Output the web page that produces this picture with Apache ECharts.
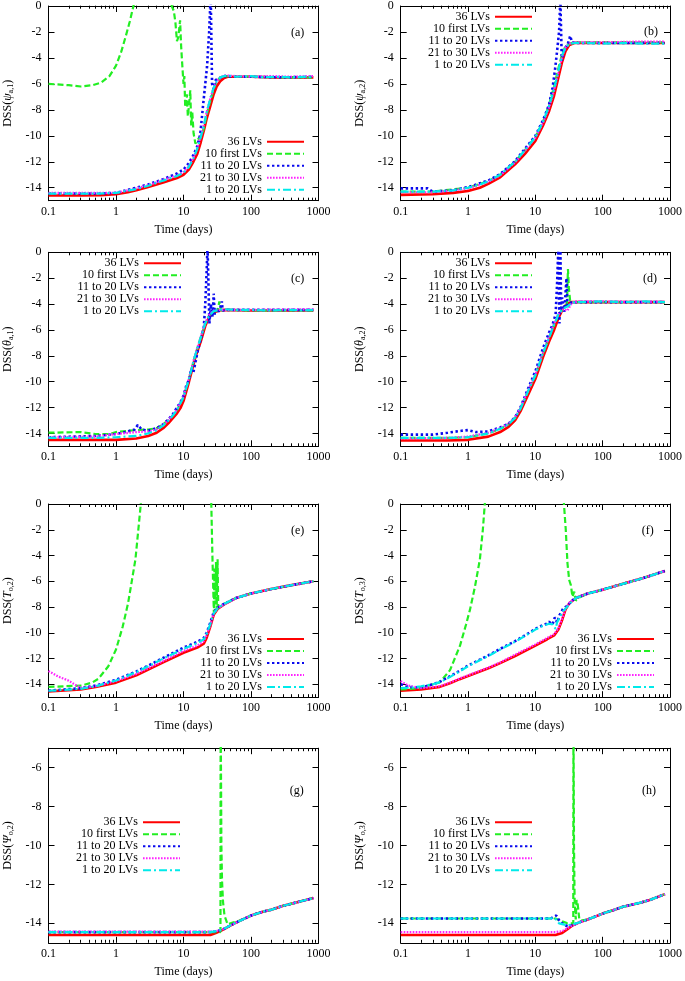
<!DOCTYPE html>
<html><head><meta charset="utf-8">
<script src="https://cdn.jsdelivr.net/npm/echarts@6/dist/echarts.min.js"></script>
<style>html,body{margin:0;padding:0;background:#fff}#c{width:685px;height:981px}</style>
</head><body><div id="c"></div>
<script>
// ---------- DATA (day, DSS) ----------
const aRed = [[0.1,-14.6],[0.3,-14.6],[0.6,-14.58],[1,-14.5],[1.5,-14.35],[2,-14.2],[3,-13.95],[5,-13.6],[8,-13.25],[10,-13.0],[12,-12.6],[14,-12.0],[16,-11.4],[18,-10.5],[20,-9.6],[22,-8.7],[25,-7.7],[28,-6.8],[31,-6.2],[35,-5.8],[40,-5.55],[45,-5.45],[60,-5.45],[100,-5.45],[200,-5.5],[400,-5.5],[840,-5.5]];
const aGreen = [[0.1,-6.0],[0.2,-6.1],[0.3,-6.2],[0.45,-6.1],[0.6,-5.9],[0.8,-5.4],[1,-4.6],[1.2,-3.5],[1.4,-2.3],[1.6,-1.2],[1.85,0.2],[2,1],[6.5,1],[6.7,0],[7.2,-0.4],[7.6,-1.3],[8.0,-2.7],[8.4,-2.4],[8.9,-1.1],[9.2,-3.0],[9.5,-4.2],[10,-6.0],[10.3,-5.4],[10.6,-7.8],[11.2,-6.8],[11.6,-8.5],[12.1,-7.6],[12.6,-6.5],[13.0,-9.2],[13.5,-8.2],[14.1,-9.8],[15,-10.6],[15.8,-10.7],[16.8,-10.2],[18.9,-9.9],[20,-9.4],[22,-8.4],[25,-7.3],[28,-6.4],[31,-5.85],[35,-5.5],[40,-5.4],[100,-5.45],[300,-5.5],[840,-5.5]];
const aBlue = [[0.1,-14.45],[0.5,-14.45],[1,-14.4],[2,-14.0],[3,-13.75],[5,-13.35],[8,-12.9],[10,-12.6],[12,-12.1],[14,-11.5],[16,-10.8],[17.7,-9.9],[19.8,-7.3],[22.3,-4.7],[24,-2.0],[24.9,0],[25.3,0.8],[25.8,0.8],[26.5,-6.0],[28,-6.4],[30,-5.7],[33,-5.6],[36,-5.5],[40,-5.4],[60,-5.45],[100,-5.45],[300,-5.5],[840,-5.45]];
const aMagenta = [[0.1,-14.4],[0.5,-14.4],[1,-14.4],[2,-14.05],[3,-13.8],[5,-13.4],[8,-13.05],[10,-12.8],[12,-12.35],[14,-11.7],[16,-10.95],[18,-10.05],[20,-9.15],[22,-8.2],[25,-7.1],[28,-6.3],[31,-5.8],[35,-5.5],[40,-5.35],[60,-5.4],[100,-5.45],[200,-5.4],[400,-5.45],[840,-5.4]];
const aCyan = [[0.1,-14.45],[0.5,-14.45],[1,-14.4],[2,-14.1],[3,-13.85],[5,-13.45],[8,-13.1],[10,-12.85],[12,-12.4],[14,-11.75],[16,-11.0],[18,-10.1],[20,-9.2],[22,-8.2],[25,-7.1],[28,-6.3],[31,-5.8],[35,-5.5],[40,-5.4],[45,-5.35],[60,-5.45],[100,-5.4],[150,-5.5],[250,-5.45],[400,-5.5],[600,-5.45],[840,-5.5]];

const bRed = [[0.1,-14.55],[0.3,-14.5],[0.6,-14.4],[1,-14.25],[1.5,-14.0],[2,-13.7],[3,-13.2],[5,-12.2],[7,-11.4],[10,-10.4],[13,-9.2],[16,-8.1],[19,-6.9],[22,-5.5],[25,-4.3],[28,-3.5],[32,-3.0],[38,-2.85],[50,-2.85],[100,-2.85],[300,-2.85],[840,-2.85]];
const bGreen = [[0.1,-14.3],[0.3,-14.3],[1,-14.0],[2,-13.5],[3,-13.0],[5,-12.0],[7,-11.1],[10,-10.1],[13,-8.9],[16,-7.6],[19,-6.2],[22,-4.8],[25,-3.7],[28,-3.1],[32,-2.9],[38,-2.8],[100,-2.8],[840,-2.8]];
const bBlue = [[0.1,-14.05],[0.25,-14.05],[0.3,-14.3],[0.6,-14.2],[1,-13.95],[2,-13.45],[3,-12.95],[5,-11.95],[7,-11.0],[10,-10.0],[13,-8.8],[16,-7.6],[18,-6.3],[19.5,-5.0],[21,-3.5],[22.5,-2.0],[23.5,0.5],[24.2,0.5],[24.7,-4.2],[27,-3.3],[30,-3.0],[33,-2.3],[35,-2.8],[40,-2.85],[100,-2.85],[840,-2.85]];
const bMagenta = [[0.1,-14.35],[0.3,-14.35],[0.6,-14.2],[1,-14.05],[2,-13.55],[3,-13.05],[5,-12.05],[7,-11.15],[10,-10.15],[13,-9.0],[16,-7.8],[19,-6.5],[22,-5.1],[25,-3.9],[28,-3.2],[32,-2.9],[38,-2.8],[100,-2.8],[300,-2.75],[840,-2.75]];
const bCyan = [[0.1,-14.3],[0.3,-14.3],[0.6,-14.2],[1,-14.0],[1.5,-13.75],[2,-13.5],[3,-13.0],[5,-12.0],[7,-11.1],[10,-10.1],[13,-8.9],[16,-7.7],[19,-6.4],[22,-5.0],[25,-3.8],[28,-3.2],[32,-2.95],[38,-2.85],[60,-2.85],[100,-2.9],[200,-2.85],[400,-2.9],[840,-2.9]];

const cRed = [[0.1,-14.5],[1,-14.5],[2,-14.4],[3,-14.2],[4,-13.95],[5,-13.6],[6,-13.2],[7,-12.8],[8,-12.45],[9,-12.05],[10,-11.5],[12,-10.05],[15,-8.1],[18,-6.9],[21,-5.7],[24,-5.0],[28,-4.65],[33,-4.5],[40,-4.45],[100,-4.5],[840,-4.5]];
const cGreen = [[0.1,-13.95],[0.3,-13.9],[0.5,-14.05],[0.8,-14.05],[1,-13.9],[1.5,-13.8],[2,-13.75],[3,-13.7],[4,-13.6],[5,-13.3],[6,-12.95],[7,-12.6],[8,-12.2],[10,-11.2],[12,-9.8],[15,-7.9],[18,-6.6],[21,-5.5],[24,-4.9],[28,-4.6],[32,-4.5],[34,-3.8],[36,-4.5],[40,-4.45],[100,-4.5],[840,-4.5]];
const cBlue = [[0.1,-14.3],[0.5,-14.2],[1,-14.05],[1.5,-13.85],[1.9,-13.7],[2.1,-13.35],[2.4,-13.7],[3,-13.8],[4,-13.6],[5,-13.3],[6,-12.9],[7,-12.5],[8,-12.0],[9,-11.6],[10,-11.1],[11,-10.3],[12,-9.9],[13,-9.0],[14,-9.3],[16,-7.8],[18,-6.7],[20,-5.8],[21,-4.0],[22,-1.5],[22.7,0.5],[23.4,0.5],[24.2,-5.5],[25.5,-4.0],[27,-5.0],[28,-3.2],[29,-4.8],[31,-4.4],[33,-4.6],[35,-4.3],[37,-3.8],[38,-4.5],[45,-4.45],[100,-4.45],[840,-4.45]];
const cMagenta = [[0.1,-14.3],[0.5,-14.25],[1,-14.05],[2,-13.9],[3,-13.85],[4,-13.7],[5,-13.35],[6,-12.95],[7,-12.55],[8,-12.15],[10,-11.15],[12,-9.75],[15,-7.85],[18,-6.55],[21,-5.45],[24,-4.85],[28,-4.5],[33,-4.45],[100,-4.45],[840,-4.4]];
const cCyan = [[0.1,-14.35],[0.5,-14.35],[1,-14.3],[2,-14.2],[3,-14.0],[4,-13.75],[5,-13.4],[6,-13.0],[7,-12.6],[8,-12.2],[10,-11.2],[12,-9.8],[15,-7.9],[18,-6.6],[21,-5.5],[24,-4.9],[28,-4.55],[33,-4.45],[40,-4.4],[60,-4.45],[100,-4.45],[200,-4.5],[400,-4.45],[600,-4.5],[840,-4.45]];

const dRed = [[0.1,-14.55],[0.5,-14.55],[1,-14.5],[2,-14.25],[3,-13.9],[4,-13.5],[5,-13.0],[6,-12.3],[8,-10.9],[10,-9.8],[13,-8.1],[16,-6.9],[19,-6.0],[22,-5.1],[26,-4.3],[30,-3.95],[35,-3.85],[100,-3.85],[840,-3.85]];
const dGreen = [[0.1,-14.35],[0.5,-14.35],[1,-14.3],[2,-14.0],[3,-13.65],[4,-13.3],[5,-12.8],[6,-12.1],[8,-10.6],[10,-9.5],[13,-7.8],[16,-6.6],[19,-5.6],[22,-4.8],[26,-4.35],[29.5,-4.0],[30.5,-1.3],[31.5,-2.8],[33,-3.85],[40,-3.85],[100,-3.85],[840,-3.85]];
const dBlue = [[0.1,-14.1],[0.3,-14.1],[0.5,-13.95],[0.8,-13.8],[1,-13.75],[1.3,-13.9],[2,-13.85],[3,-13.55],[4,-13.25],[5,-12.75],[6,-12.0],[8,-10.4],[10,-9.2],[13,-7.4],[16,-6.2],[18,-5.6],[20,-4.8],[21,-2.5],[22,0.5],[22.8,-5.5],[23.5,0.5],[24.2,-4.5],[25,-3.5],[27,-4.6],[29,-2.0],[30,-4.3],[32,-3.9],[40,-3.85],[100,-3.85],[840,-3.85]];
const dMagenta = [[0.1,-14.4],[0.5,-14.35],[1,-14.25],[2,-13.95],[3,-13.6],[4,-13.25],[5,-12.75],[6,-12.05],[8,-10.55],[10,-9.45],[13,-7.75],[16,-6.55],[19,-5.5],[22,-4.8],[26,-4.4],[30,-4.5],[35,-3.9],[45,-3.8],[100,-3.8],[400,-3.85],[840,-3.8]];
const dCyan = [[0.1,-14.35],[0.5,-14.35],[1,-14.3],[2,-14.0],[3,-13.65],[4,-13.3],[5,-12.8],[6,-12.1],[8,-10.6],[10,-9.5],[13,-7.8],[16,-6.6],[19,-5.6],[22,-4.8],[26,-4.35],[30,-4.2],[35,-3.9],[45,-3.85],[100,-3.8],[200,-3.85],[400,-3.8],[840,-3.85]];

const eRed = [[0.1,-14.55],[0.3,-14.4],[0.5,-14.2],[1,-13.87],[2,-13.3],[3,-12.85],[5,-12.3],[10,-11.55],[16,-11.15],[20,-10.85],[22,-10.4],[25,-9.5],[28,-8.6],[32,-8.15],[40,-7.8],[60,-7.3],[100,-6.95],[200,-6.6],[400,-6.3],[840,-6.0]];
const eGreen = [[0.1,-14.2],[0.31,-14.1],[0.45,-13.85],[0.55,-13.56],[0.77,-12.6],[1,-11.3],[1.26,-9.5],[1.51,-7.7],[1.7,-6.1],[1.94,-4.3],[2.16,-1.8],[2.35,0.2],[2.6,1],[25,1],[25.8,0.1],[26.3,-2.0],[26.8,-4.0],[27.5,-6.3],[28.2,-8.5],[28.8,-5.0],[29.5,-7.8],[30.3,-4.5],[31,-8.2],[32,-4.3],[32.7,-8.1],[34,-8.0],[40,-7.75],[60,-7.3],[100,-6.95],[200,-6.6],[400,-6.3],[840,-6.0]];
const eBlue = [[0.1,-14.5],[0.3,-14.3],[0.5,-14.1],[1,-13.65],[2,-13.0],[3,-12.55],[5,-11.95],[10,-11.15],[16,-10.7],[20,-10.4],[22,-10.0],[25,-9.2],[28,-8.4],[32,-8.05],[40,-7.75],[60,-7.3],[100,-6.95],[200,-6.6],[400,-6.3],[840,-6.0]];
const eMagenta = [[0.1,-12.97],[0.14,-13.4],[0.196,-13.7],[0.27,-14.15],[0.32,-14.3],[0.5,-14.15],[1,-13.75],[2,-13.2],[3,-12.75],[5,-12.2],[10,-11.4],[16,-11.0],[20,-10.65],[22,-10.2],[25,-9.4],[28,-8.5],[32,-8.1],[40,-7.8],[60,-7.3],[100,-6.95],[200,-6.6],[400,-6.3],[840,-6.0]];
const eCyan = [[0.1,-14.5],[0.3,-14.35],[0.5,-14.15],[1,-13.7],[2,-13.05],[3,-12.6],[5,-12.0],[10,-11.25],[16,-10.8],[20,-10.5],[22,-10.1],[25,-9.3],[28,-8.5],[32,-8.1],[40,-7.75],[60,-7.3],[100,-6.95],[200,-6.6],[400,-6.3],[840,-6.0]];

const fRed = [[0.1,-14.5],[0.2,-14.4],[0.38,-14.2],[0.55,-13.9],[0.75,-13.6],[1,-13.35],[2,-12.75],[3,-12.35],[5,-11.8],[10,-11.0],[15,-10.5],[19,-10.2],[22,-9.75],[25,-9.0],[28,-8.2],[32,-7.7],[40,-7.3],[60,-6.95],[100,-6.65],[200,-6.2],[400,-5.75],[840,-5.2]];
const fGreen = [[0.1,-14.4],[0.19,-14.3],[0.38,-13.85],[0.54,-12.9],[0.76,-11.0],[0.93,-9.4],[1.07,-8.2],[1.27,-6.4],[1.5,-4.3],[1.66,-2.0],[1.78,0.1],[1.9,1],[26,1],[26.6,0],[28.3,-2.0],[30,-4.6],[31.8,-5.9],[33.7,-6.3],[35.6,-7.2],[37.8,-6.8],[40,-7.5],[45,-7.25],[60,-6.95],[100,-6.65],[200,-6.2],[400,-5.75],[840,-5.2]];
const fBlue = [[0.1,-14.0],[0.13,-14.2],[0.2,-14.25],[0.3,-14.0],[0.4,-13.75],[0.55,-13.35],[0.75,-12.95],[1,-12.55],[2,-11.75],[3,-11.25],[5,-10.65],[7,-10.2],[10,-9.7],[13,-9.4],[14.7,-9.3],[16,-9.15],[18,-9.35],[19.5,-8.8],[21,-9.2],[23,-8.6],[26,-8.1],[30,-7.9],[35,-7.5],[40,-7.3],[60,-6.95],[100,-6.65],[200,-6.2],[400,-5.75],[840,-5.2]];
const fMagenta = [[0.1,-13.75],[0.13,-14.1],[0.2,-14.3],[0.38,-14.15],[0.55,-13.85],[0.75,-13.55],[1,-13.3],[2,-12.7],[3,-12.3],[5,-11.7],[10,-10.9],[15,-10.4],[19,-10.1],[22,-9.65],[25,-8.9],[28,-8.15],[32,-7.65],[40,-7.3],[60,-6.95],[100,-6.65],[200,-6.2],[400,-5.75],[840,-5.2]];
const fCyan = [[0.1,-14.3],[0.15,-14.25],[0.2,-14.15],[0.3,-14.0],[0.4,-13.8],[0.55,-13.4],[0.75,-13.0],[1,-12.6],[2,-11.8],[3,-11.3],[5,-10.7],[7,-10.25],[10,-9.75],[13,-9.45],[16,-9.3],[18,-9.35],[20,-9.7],[21,-9.2],[23,-8.8],[26,-8.3],[30,-7.95],[35,-7.55],[40,-7.3],[60,-6.95],[100,-6.65],[200,-6.2],[400,-5.75],[840,-5.2]];

const gRed = [[0.1,-14.6],[1,-14.6],[10,-14.6],[25,-14.6],[30,-14.5],[35,-14.4],[40,-14.3],[50,-14.1],[70,-13.85],[100,-13.6],[150,-13.4],[200,-13.3],[300,-13.1],[500,-12.9],[840,-12.7]];
const gGreen = [[0.1,-14.45],[10,-14.45],[30,-14.45],[35.3,-14.45],[35.5,-3],[35.7,-3],[35.9,-6],[36.4,-10],[37.2,-11.8],[38.5,-12.9],[40.5,-13.6],[45,-14.05],[55,-13.95],[70,-13.85],[100,-13.6],[150,-13.4],[200,-13.3],[300,-13.1],[500,-12.9],[840,-12.7]];
const gBlue = [[0.1,-14.45],[1,-14.45],[10,-14.45],[25,-14.45],[30,-14.4],[35,-14.35],[40,-14.28],[50,-14.1],[70,-13.85],[100,-13.6],[150,-13.4],[200,-13.3],[300,-13.1],[500,-12.9],[840,-12.7]];
const gMagenta = [[0.1,-14.43],[1,-14.43],[10,-14.43],[25,-14.43],[30,-14.4],[35,-14.35],[40,-14.28],[50,-14.1],[70,-13.85],[100,-13.6],[150,-13.4],[200,-13.3],[300,-13.1],[500,-12.9],[840,-12.7]];
const gCyan = [[0.1,-14.45],[1,-14.45],[10,-14.45],[25,-14.45],[30,-14.4],[35,-14.35],[40,-14.28],[50,-14.1],[70,-13.85],[100,-13.6],[150,-13.4],[200,-13.3],[300,-13.1],[500,-12.9],[840,-12.7]];

const hRed = [[0.1,-14.6],[10,-14.6],[20,-14.6],[25,-14.5],[30,-14.3],[36,-14.1],[45,-13.95],[60,-13.8],[100,-13.5],[150,-13.3],[200,-13.15],[350,-12.95],[500,-12.8],[840,-12.5]];
const hGreen = [[0.1,-13.75],[10,-13.75],[20,-13.75],[25,-13.9],[30,-14.0],[36.6,-14.0],[36.8,-3],[37.1,-3],[37.5,-10],[38.3,-12.8],[39.8,-13.8],[41,-12.8],[42.5,-13.0],[44,-12.9],[45,-13.8],[50,-13.85],[60,-13.8],[100,-13.5],[150,-13.3],[200,-13.15],[350,-12.95],[500,-12.8],[840,-12.5]];
const hBlue = [[0.1,-13.75],[1,-13.75],[10,-13.75],[17,-13.75],[19,-13.65],[20.5,-13.6],[23,-13.9],[26,-14.05],[30,-14.15],[36,-14.1],[45,-13.95],[60,-13.8],[100,-13.5],[150,-13.3],[200,-13.15],[350,-12.95],[500,-12.8],[840,-12.5]];
const hMagenta = [[0.1,-14.45],[10,-14.45],[20,-14.45],[25,-14.4],[30,-14.25],[36,-14.1],[45,-13.95],[60,-13.8],[100,-13.5],[150,-13.3],[200,-13.15],[350,-12.95],[500,-12.8],[840,-12.5]];
const hCyan = [[0.1,-13.75],[1,-13.75],[10,-13.75],[17,-13.75],[19,-13.7],[21,-13.85],[22.5,-14.0],[26,-14.05],[30,-14.1],[36,-14.05],[45,-13.95],[60,-13.8],[100,-13.5],[150,-13.3],[200,-13.15],[350,-12.95],[500,-12.8],[840,-12.5]];

const seriesNames = ['36 LVs', '10 first LVs', '11 to 20 LVs', '21 to 30 LVs', '1 to 20 LVs'];
const yTicksUpper = [-14, -12, -10, -8, -6, -4, -2, 0];
const yTicksLower = [-14, -12, -10, -8, -6];
const minorTickDays = [0.2,0.3,0.4,0.5,0.6,0.7,0.8,0.9, 2,3,4,5,6,7,8,9, 20,30,40,50,60,70,80,90, 200,300,400,500,600,700,800,900];
const panelTags = ['(a)', '(b)', '(c)', '(d)', '(e)', '(f)', '(g)', '(h)'];
const yVarSymbol = ['ψ', 'ψ', 'θ', 'θ', 'T', 'T', 'Ψ', 'Ψ'];
const yVarSub = ['a,1', 'a,2', 'a,1', 'a,2', 'o,2', 'o,3', 'o,2', 'o,3'];
const xName = 'Time (days)';

// ---------- LAYOUT / STYLE ----------
const FONT = 'Liberation Serif';
const lineStyles = [
  { color: '#ff0000', width: 2.6, type: 'solid' },
  { color: '#22ee22', width: 2.2, type: [6, 3] },
  { color: '#0a0aee', width: 2.6, type: [2.4, 2.6] },
  { color: '#ff22ff', width: 2.2, type: [1.6, 1.4] },
  { color: '#00eaea', width: 2.2, type: [8, 3, 2, 3] }
];
const LX = 48.5, LW = 270, RX = 400.7, RW = 269.3;
const rows = [{ top: 5.7, h: 195 }, { top: 252.3, h: 194 }, { top: 504, h: 193.2 }, { top: 748.2, h: 194.6 }];
const panels = [
  { d: [aRed, aGreen, aBlue, aMagenta, aCyan], col: 0, row: 0, lo: -15, hi: 0, ticks: yTicksUpper, legX: 305, legY: 141.7, tag: [297.7, 33.3] },
  { d: [bRed, bGreen, bBlue, bMagenta, bCyan], col: 1, row: 0, lo: -15, hi: 0, ticks: yTicksUpper, legX: 533, legY: 16.7, tag: [651, 32.3] },
  { d: [cRed, cGreen, cBlue, cMagenta, cCyan], col: 0, row: 1, lo: -15, hi: 0, ticks: yTicksUpper, legX: 182, legY: 263.3, tag: [297.7, 279.3] },
  { d: [dRed, dGreen, dBlue, dMagenta, dCyan], col: 1, row: 1, lo: -15, hi: 0, ticks: yTicksUpper, legX: 533, legY: 263.3, tag: [650, 279.3] },
  { d: [eRed, eGreen, eBlue, eMagenta, eCyan], col: 0, row: 2, lo: -15, hi: 0, ticks: yTicksUpper, legX: 305, legY: 639, tag: [297.7, 530.7] },
  { d: [fRed, fGreen, fBlue, fMagenta, fCyan], col: 1, row: 2, lo: -15, hi: 0, ticks: yTicksUpper, legX: 655, legY: 639, tag: [647.7, 531] },
  { d: [gRed, gGreen, gBlue, gMagenta, gCyan], col: 0, row: 3, lo: -15, hi: -5, ticks: yTicksLower, legX: 181, legY: 822.3, tag: [296.7, 791] },
  { d: [hRed, hGreen, hBlue, hMagenta, hCyan], col: 1, row: 3, lo: -15, hi: -5, ticks: yTicksLower, legX: 533, legY: 822.3, tag: [649, 791] }
];

const txt = { fontFamily: FONT, fontSize: 12, color: '#000' };
const grids = [], xAxes = [], yAxes = [], series = [], legends = [], graphics = [];
const N = panels.length;
panels.forEach((p, i) => {
  const r = rows[p.row];
  grids[i] = { left: p.col ? RX : LX, top: r.top, width: p.col ? RW : LW, height: r.h, containLabel: false };
  // overlay grid (same rectangle) that only carries the short minor ticks of the log scale
  grids[N + i] = Object.assign({}, grids[i]);
  const axLine = { show: true, onZero: false, lineStyle: { color: '#000', width: 1 } };
  const xBase = {
    type: 'log', logBase: 10, gridIndex: i, min: 0.1, max: 1000,
    axisLine: axLine,
    axisTick: { show: true, inside: true, length: 6, lineStyle: { color: '#000' } },
    minorTick: { show: false },
    splitLine: { show: false }, minorSplitLine: { show: false }
  };
  xAxes.push(Object.assign({}, xBase, {
    position: 'bottom',
    axisLabel: Object.assign({ margin: 5, formatter: v => String(v) }, txt),
    name: xName, nameLocation: 'middle', nameGap: 23, nameTextStyle: txt
  }));
  xAxes.push(Object.assign({}, xBase, { position: 'top', axisLabel: { show: false } }));
  const yBase = {
    type: 'value', gridIndex: i, min: p.lo, max: p.hi,
    axisLine: axLine,
    axisTick: { show: true, inside: true, length: 6, customValues: p.ticks, lineStyle: { color: '#000' } },
    splitLine: { show: false }
  };
  yAxes.push(Object.assign({}, yBase, {
    position: 'left',
    axisLabel: Object.assign({ margin: 7, customValues: p.ticks }, txt),
    name: '{n|DSS(}{g|' + yVarSymbol[i] + '}{s|' + yVarSub[i] + '}{n|)}',
    nameLocation: 'middle', nameRotate: 90, nameGap: 34,
    nameTextStyle: {
      rich: {
        n: { fontFamily: FONT, fontSize: 12, color: '#000', lineHeight: 14 },
        g: { fontFamily: FONT, fontSize: 12, fontStyle: 'italic', color: '#000', lineHeight: 14 },
        s: { fontFamily: FONT, fontSize: 8, color: '#000', lineHeight: 8, verticalAlign: 'bottom' }
      }
    }
  }));
  yAxes.push(Object.assign({}, yBase, { position: 'right', axisLabel: { show: false } }));
  p.d.forEach((data, k) => {
    series.push({
      name: seriesNames[k], type: 'line', xAxisIndex: 2 * i, yAxisIndex: 2 * i,
      data: data, showSymbol: false, symbol: 'none', smooth: false, clip: true,
      color: lineStyles[k].color, lineStyle: lineStyles[k], animation: false, z: 2 + k
    });
  });
  legends.push({
    data: seriesNames, orient: 'vertical', align: 'right', right: 685 - p.legX, top: p.legY - 6,
    padding: 0, itemGap: 0, itemWidth: 37, itemHeight: 10, selectedMode: false,
    itemStyle: { opacity: 0 },
    textStyle: Object.assign({ lineHeight: 12 }, txt)
  });
  graphics.push({
    type: 'text', x: p.tag[0], y: p.tag[1],
    style: { text: panelTags[i], font: '12px "' + FONT + '"', fill: '#000', align: 'center', verticalAlign: 'middle' }
  });
});
// minor-tick axes: value axes over decades (log10 of day), same pixel span as the log axes
const minorPos = minorTickDays.map(v => Math.log10(v));
panels.forEach((p, i) => {
  ['bottom', 'top'].forEach(pos => {
    xAxes.push({
      type: 'value', gridIndex: N + i, position: pos, min: -1, max: 3,
      axisLine: { show: false, onZero: false }, axisLabel: { show: false }, splitLine: { show: false },
      axisTick: { show: true, inside: true, length: 3, customValues: minorPos, lineStyle: { color: '#000' } }
    });
  });
  yAxes.push({ type: 'value', gridIndex: N + i, min: 0, max: 1, show: false });
});

const chart = echarts.init(document.getElementById('c'), null, { renderer: 'canvas' });
chart.setOption({
  animation: false,
  backgroundColor: '#fff',
  grid: grids, xAxis: xAxes, yAxis: yAxes, series: series, legend: legends,
  graphic: { elements: graphics }
});
</script>
</body></html>
